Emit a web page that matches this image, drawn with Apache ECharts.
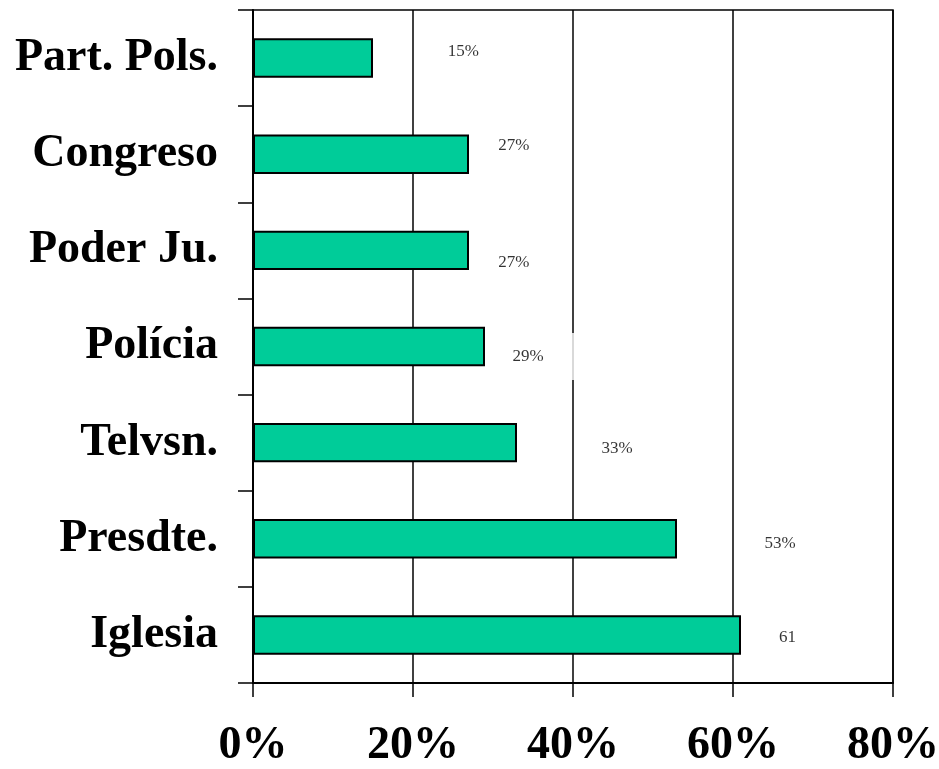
<!DOCTYPE html>
<html>
<head>
<meta charset="utf-8">
<script src="https://cdn.jsdelivr.net/npm/echarts@6/dist/echarts.min.js"></script>
<style>
  html, body { margin: 0; padding: 0; background: #fff; }
  #chart { width: 939px; height: 769px; }
</style>
</head>
<body>
<div id="chart"></div>
<script>
// categories top to bottom
const categories = ['Part. Pols.', 'Congreso', 'Poder Ju.', 'Polícia', 'Telvsn.', 'Presdte.', 'Iglesia']
const values = [15, 27, 27, 29, 33, 53, 61]
// data labels as printed, and where they sit (in % units of the x axis)
const labelText = ['15%', '27%', '27%', '29%', '33%', '53%', '61']
const labelAt = [26.3, 32.6, 32.6, 34.4, 45.5, 65.9, 66.8]
const ticks = [0, 20, 40, 60, 80]

const serif = '"Liberation Serif", "Times New Roman", serif'
// small vertical nudges of the hand-placed labels (px)
const nudge = [-7, -9, 12, 10, 6, 5, 3]

const chart = echarts.init(document.getElementById('chart'), null, { renderer: 'canvas' })

const option = {
  animation: false,
  backgroundColor: '#fff',
  grid: {
    left: 253,
    right: 46,
    top: 10,
    bottom: 86,
    outerBoundsMode: 'none',
    containLabel: false,
    show: true,
    borderColor: '#000',
    borderWidth: 1.5
  },
  xAxis: {
    type: 'value',
    min: ticks[0],
    max: ticks[ticks.length - 1],
    interval: 20,
    axisLine: { show: true, lineStyle: { color: '#000', width: 2 } },
    axisTick: { show: true, length: 14, lineStyle: { color: '#000', width: 1.5 } },
    splitLine: { show: true, lineStyle: { color: '#000', width: 1.5 } },
    axisLabel: {
      formatter: '{value}%',
      color: '#000',
      fontFamily: serif,
      fontWeight: 'bold',
      fontSize: 46,
      margin: 40
    }
  },
  yAxis: {
    type: 'category',
    data: categories,
    inverse: true,
    axisLine: { show: true, lineStyle: { color: '#000', width: 2 } },
    axisTick: { show: true, length: 15, lineStyle: { color: '#000', width: 1.5 } },
    axisLabel: {
      color: '#000',
      fontFamily: serif,
      fontWeight: 'bold',
      fontSize: 46,
      margin: 35
    }
  },
  series: [
    {
      type: 'bar',
      data: values,
      barCategoryGap: '59%',
      itemStyle: { color: '#00CC99', borderColor: '#000', borderWidth: 2 }
    },
    {
      type: 'scatter',
      symbolSize: 0,
      silent: true,
      z: 1,
      data: labelAt.map((v, i) => {
        const item = {
          value: [v, categories[i]],
          label: {
            show: true,
            position: 'inside',
            offset: [0, nudge[i]],
            formatter: labelText[i],
            color: '#000',
            textBorderWidth: 0,
            fontFamily: serif,
            fontSize: 17
          }
        }
        // the Polícia label box hides a bit of the 40% grid line
        if (i === 3) {
          item.label.backgroundColor = '#fff'
          item.label.padding = [15, 31]
        }
        return item
      })
    }
  ]
}

chart.setOption(option)
</script>
</body>
</html>
